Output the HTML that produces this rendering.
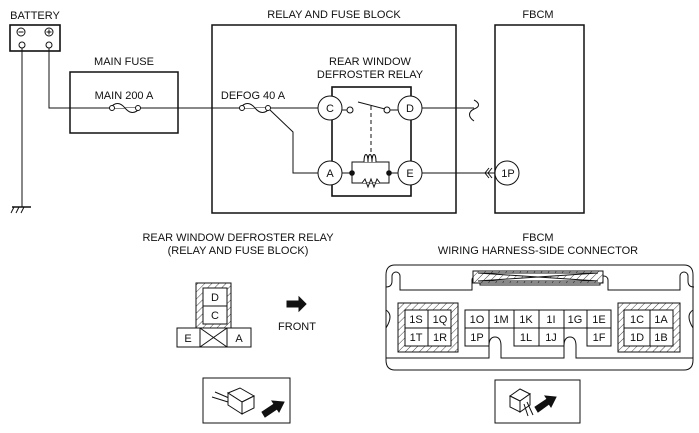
<!DOCTYPE html>
<html><head><meta charset="utf-8"><style>
html,body{margin:0;padding:0;background:#fff}
svg{display:block}
text{font-family:"Liberation Sans",sans-serif;font-size:11px;fill:#111}
</style></head><body>
<svg width="699" height="433" viewBox="0 0 699 433" xmlns="http://www.w3.org/2000/svg">
<defs>
<pattern id="h" width="5" height="5" patternUnits="userSpaceOnUse" patternTransform="rotate(45)">
<rect width="5" height="5" fill="#fff"/><line x1="0" y1="0" x2="0" y2="5" stroke="#444" stroke-width="1"/></pattern>
</defs>
<g fill="none" stroke="#111" stroke-width="1">
<!-- battery -->
<rect x="10" y="25" width="50" height="26" stroke-width="1.6"/>
<circle cx="21" cy="32" r="4"/><line x1="18.5" y1="32" x2="23.5" y2="32"/>
<circle cx="49" cy="32" r="4"/><line x1="46.5" y1="32" x2="51.5" y2="32"/><line x1="49" y1="29.5" x2="49" y2="34.5"/>
<circle cx="22" cy="45" r="3"/><circle cx="49" cy="45" r="3"/>
<line x1="22" y1="48" x2="22" y2="207"/>
<line x1="12" y1="207" x2="31" y2="207" stroke-width="1.5"/>
<line x1="14" y1="207" x2="11" y2="213"/><line x1="19" y1="207" x2="16" y2="213"/><line x1="24" y1="207" x2="21" y2="213"/>
<polyline points="49,48 49,108 318,108"/>
<!-- main fuse -->
<rect x="70" y="72" width="108" height="61" stroke-width="1.5"/>
<path d="M110,108 c5,-6 10,-6 15,0 c5,6 10,6 15,0" fill="#fff"/>
<circle cx="112" cy="108" r="2.5" fill="#fff"/><circle cx="138" cy="108" r="2.5" fill="#fff"/>
<!-- relay block -->
<rect x="212" y="25" width="244" height="188" stroke-width="1.5"/>
<path d="M240,108 c5,-6 10,-6 15,0 c5,6 10,6 15,0" fill="#fff"/>
<circle cx="242" cy="108" r="2.5" fill="#fff"/><circle cx="268" cy="108" r="2.5" fill="#fff"/>
<polyline points="270,110 293,132 293,173 318,173"/>
<rect x="332" y="87" width="79" height="109" stroke-width="1.6"/>
<circle cx="330" cy="108" r="12" fill="#fff"/><circle cx="410" cy="108" r="12" fill="#fff"/>
<circle cx="330" cy="173" r="12" fill="#fff"/><circle cx="410" cy="173" r="12" fill="#fff"/>
<line x1="342" y1="110" x2="347" y2="110"/><circle cx="350" cy="110" r="3" fill="#fff"/>
<circle cx="387" cy="110" r="3" fill="#fff"/><line x1="390" y1="110" x2="398" y2="110"/>
<line x1="358" y1="102" x2="385" y2="109"/>
<line x1="371" y1="106" x2="371" y2="158" stroke-dasharray="4,3"/>
<line x1="342" y1="173" x2="352" y2="173"/><line x1="389" y1="173" x2="398" y2="173"/>
<rect x="352" y="162" width="37" height="21"/>
<path d="M364,162 c0,-10 4,-10 4,0 c0,-10 4,-10 4,0 c0,-10 4,-10 4,0" fill="#fff"/>
<polyline points="362,183 365,179 368,187 371,179 374,187 377,179 380,183" fill="#fff"/>
<circle cx="352" cy="173" r="2.3" fill="#111"/><circle cx="389" cy="173" r="2.3" fill="#111"/>
<line x1="422" y1="108" x2="474" y2="108"/>
<path d="M474,100 c6,3 6,7 0,9 c-6,3 -6,8 0,12"/>
<line x1="422" y1="173" x2="495" y2="173"/>
<polyline points="489,168 485,173 489,178"/><polyline points="492,168 488,173 492,178"/>
<!-- FBCM -->
<rect x="495" y="25" width="89" height="188" stroke-width="1.5"/>
<circle cx="507" cy="173" r="12" fill="#fff"/>
<!-- relay connector -->
<rect x="196" y="283" width="35" height="45" fill="url(#h)"/>
<rect x="203" y="288" width="24" height="18" fill="#fff"/><rect x="203" y="306" width="24" height="18" fill="#fff"/>
<rect x="177" y="328" width="74" height="19" fill="#fff"/>
<line x1="200" y1="328" x2="200" y2="347"/><line x1="227" y1="328" x2="227" y2="347"/>
<line x1="200" y1="328" x2="227" y2="347"/><line x1="227" y1="328" x2="200" y2="347"/>
<polygon points="287,301 299,301 299,297 306,304 299,311 299,307 287,307" fill="#111"/>
<rect x="203" y="378" width="87" height="45"/>
<path d="M215,392 l14,6 M212,397 l16,5"/>
<polygon points="228,393 240,388 254,396 242,402" fill="#fff"/>
<polygon points="242,402 254,396 254,408 242,414" fill="#fff"/>
<polygon points="228,393 242,402 242,414 228,405" fill="#fff"/>
<polygon points="262,412 274,404 272,401 284,402 279,412 277,409 265,417" fill="#111"/>
<!-- FBCM connector -->
<path d="M395,265 H684 Q693,265 693,275 V360 Q693,370 684,370 H395 Q386,370 386,360 V275 Q386,265 395,265 Z"/>
<path d="M386,287 q6,0 6,-6 v-5 a4,4 0 0 1 8,0 v14 h72 v-10 a4,4 0 0 1 8,0 v5 h120 v-5 a4,4 0 0 1 8,0 v10 h72 v-14 a4,4 0 0 1 8,0 v5 q0,6 6,6"/>
<path d="M386,310 q8,5 0,18 M693,310 q-8,5 0,18"/>
<rect x="473" y="271" width="130" height="12" fill="url(#h)"/>
<polygon points="478,273 598,273 478,281 598,281" fill="#fff"/>
<rect x="398" y="303" width="60" height="49" fill="url(#h)"/>
<rect x="618" y="303" width="62" height="49" fill="url(#h)"/>
<rect x="405" y="310" width="46" height="36" fill="#fff"/>
<line x1="428" y1="310" x2="428" y2="346"/><line x1="405" y1="328" x2="451" y2="328"/>
<rect x="624" y="310" width="49" height="36" fill="#fff"/>
<line x1="650" y1="310" x2="650" y2="346"/><line x1="624" y1="328" x2="673" y2="328"/>
<rect x="465" y="310" width="24" height="18" fill="#fff"/>
<rect x="489" y="310" width="25" height="18" fill="#fff"/>
<rect x="514" y="310" width="25" height="18" fill="#fff"/>
<rect x="539" y="310" width="25" height="18" fill="#fff"/>
<rect x="564" y="310" width="23" height="18" fill="#fff"/>
<rect x="587" y="310" width="24" height="18" fill="#fff"/>
<rect x="465" y="328" width="24" height="18" fill="#fff"/>
<rect x="514" y="328" width="25" height="18" fill="#fff"/>
<rect x="539" y="328" width="25" height="18" fill="#fff"/>
<rect x="587" y="328" width="24" height="18" fill="#fff"/>
<path d="M386,358 H489 V346 q0,-9 6,-9 q6,0 6,9 V358 H564 V346 q0,-9 6,-9 q6,0 6,9 V358 H693"/>
<rect x="495" y="380" width="85" height="43"/>
<polygon points="510,396 520,389 530,394 520,401" fill="#fff"/>
<polygon points="520,401 530,394 530,405 520,412" fill="#fff"/>
<polygon points="510,396 520,401 520,412 510,407" fill="#fff"/>
<path d="M524,404 l4,12 M527,402 l6,13"/>
<polygon points="535,407 547,399 545,396 556,397 551,407 549,404 538,412" fill="#111"/>
</g>
<g text-anchor="middle">
<text x="35" y="19">BATTERY</text>
<text x="124" y="65">MAIN FUSE</text>
<text x="124" y="99">MAIN 200 A</text>
<text x="334" y="18">RELAY AND FUSE BLOCK</text>
<text x="538" y="18">FBCM</text>
<text x="253" y="99">DEFOG 40 A</text>
<text x="370" y="65">REAR WINDOW</text>
<text x="370" y="78">DEFROSTER RELAY</text>
<text x="330" y="112">C</text><text x="410" y="112">D</text>
<text x="330" y="177">A</text><text x="410" y="177">E</text>
<text x="508" y="177">1P</text>
<text x="238" y="241">REAR WINDOW DEFROSTER RELAY</text>
<text x="238" y="254">(RELAY AND FUSE BLOCK)</text>
<text x="538" y="241">FBCM</text>
<text x="538" y="254">WIRING HARNESS-SIDE CONNECTOR</text>
<text x="215" y="301">D</text><text x="215" y="319">C</text>
<text x="188" y="342">E</text><text x="239" y="342">A</text>
<text x="297" y="330">FRONT</text>
<text x="416" y="323">1S</text><text x="440" y="323">1Q</text>
<text x="416" y="341">1T</text><text x="440" y="341">1R</text>
<text x="477" y="323">1O</text><text x="501" y="323">1M</text><text x="526" y="323">1K</text>
<text x="551" y="323">1I</text><text x="575" y="323">1G</text><text x="599" y="323">1E</text>
<text x="477" y="341">1P</text><text x="526" y="341">1L</text><text x="551" y="341">1J</text><text x="599" y="341">1F</text>
<text x="637" y="323">1C</text><text x="661" y="323">1A</text>
<text x="637" y="341">1D</text><text x="661" y="341">1B</text>
</g>
</svg>
</body></html>
